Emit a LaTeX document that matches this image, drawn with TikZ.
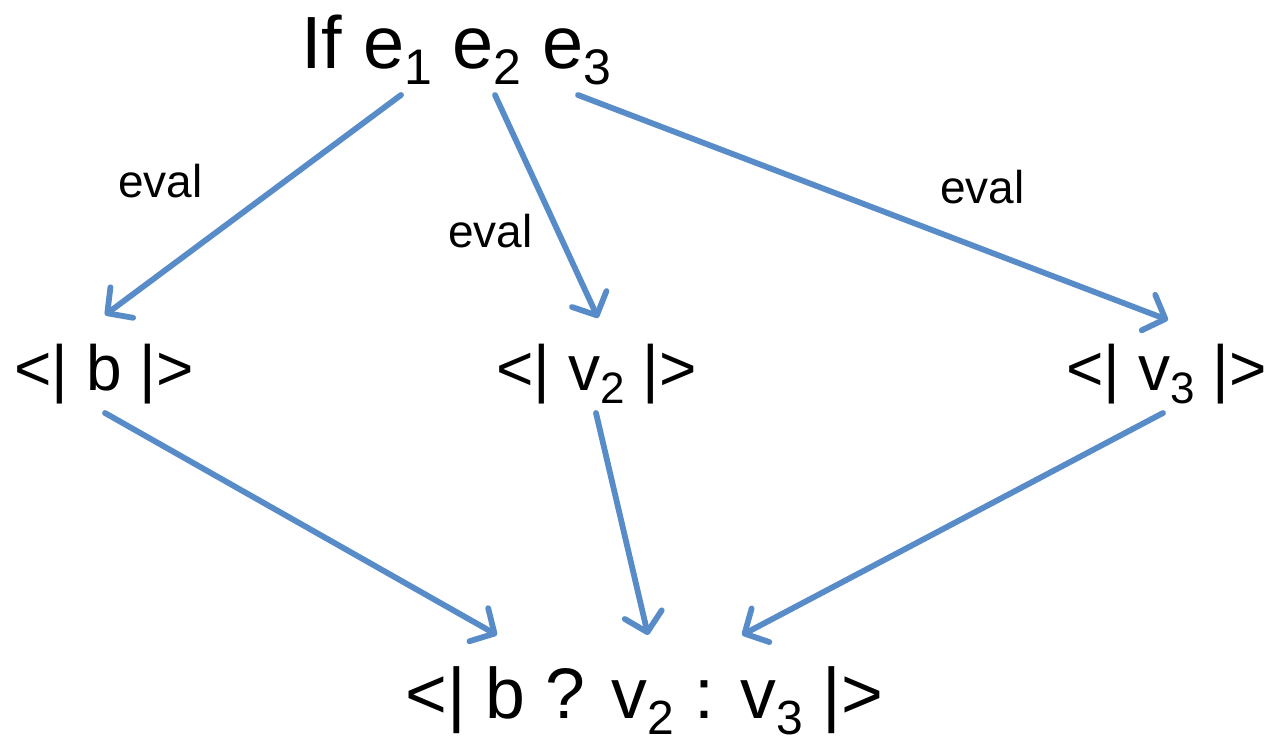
\documentclass[tikz,border=0pt]{standalone}
\usepackage{fontspec}
\setmainfont{Liberation Sans}
\usetikzlibrary{arrows.meta,calc}
\definecolor{arrblue}{RGB}{88,140,200}
\newcommand\subA[1]{\raisebox{-8.5pt}{\fontsize{25}{26}\selectfont #1}}
\newcommand\subC[1]{\raisebox{-8pt}{\fontsize{24}{25}\selectfont #1}}
\newcommand\subB[1]{\raisebox{-6.5pt}{\fontsize{22}{23}\selectfont #1}}
\begin{document}
\begin{tikzpicture}[x=0.5pt,y=-0.5pt,
  big/.style={anchor=base west,inner sep=0pt,font=\fontsize{37}{40}\selectfont},
  bot/.style={anchor=base west,inner sep=0pt,font=\fontsize{35.8}{38}\selectfont},
  mid/.style={anchor=base west,inner sep=0pt,font=\fontsize{32}{35}\selectfont},
  lbl/.style={anchor=base west,inner sep=0pt,font=\fontsize{23}{26}\selectfont},
  conn/.style={draw=arrblue,line width=2.9pt,line cap=round,
    -{Straight Barb[length=9pt,width=19pt,round]}}]
\useasboundingbox (0,0) rectangle (1268,739);
\node[big] (top) at (301,68) {If e\subA{1} e\subA{2} e\subA{3}};
\node[mid] (b) at (14,390) {<| b |>};
\node[mid] (v2) at (496,390) {<| v\subB{2} |>};
\node[mid] (v3) at (1066,390) {<| v\subB{3} |>};
\node[bot] (res) at (405,718) {<| b ? v\subC{2} : v\subC{3} |>};
\node[lbl] (l1) at (118,197) {eval};
\node[lbl] (l2) at (448,247) {eval};
\node[lbl] (l3) at (940,203) {eval};
\draw[conn] ($(top.base west)+(100,27)$) -- ($(b.base west)+(91,-75)$);
\draw[conn] ($(top.base west)+(194,27)$) -- ($(v2.base west)+(102,-72)$);
\draw[conn] ($(top.base west)+(277,27)$) -- ($(v3.base west)+(102,-70)$);
\draw[conn] ($(b.base west)+(91,23)$) -- ($(res.base west)+(92,-83)$);
\draw[conn] ($(v2.base west)+(100,23)$) -- ($(res.base west)+(243,-83)$);
\draw[conn] ($(v3.base west)+(97,23)$) -- ($(res.base west)+(337,-83)$);
\end{tikzpicture}
\end{document}
